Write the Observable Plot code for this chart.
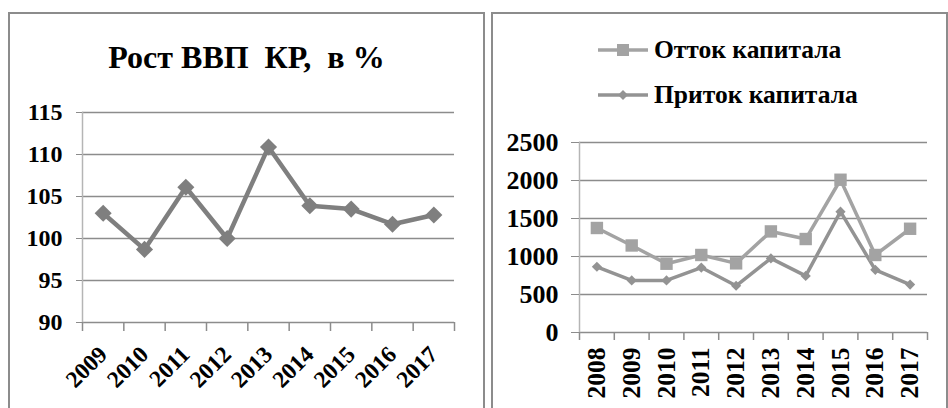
<!DOCTYPE html>
<html><head><meta charset="utf-8">
<script src="https://cdn.jsdelivr.net/npm/d3@7"></script>
<script src="https://cdn.jsdelivr.net/npm/@observablehq/plot@0.6"></script>
<style>
body{margin:0;background:#fff;}
#wrap{position:relative;width:948px;height:408px;overflow:hidden;background:#fff;font-family:"Liberation Serif","Times New Roman",serif;}
.panel{position:absolute;border:2px solid #8c8c8c;box-sizing:border-box;background:#fff;}
#left{left:8px;top:12px;width:477px;height:420px;}
#right{left:491px;top:12px;width:457px;height:420px;}
.title{height:78px;box-sizing:border-box;padding-top:27px;line-height:32px;font-size:32px;font-weight:bold;text-align:center;white-space:pre;color:#000;}
.legend{position:relative;height:108px;}
.lrow{position:absolute;left:105px;height:26px;display:flex;align-items:center;font-size:25.5px;font-weight:bold;color:#000;white-space:nowrap;}
.lrow svg{display:block;margin-right:6px;}
</style>
</head><body>
<div id="wrap">
  <div class="panel" id="left"><div class="title">Рост ВВП  КР,  в %</div><div id="chartL"></div></div>
  <div class="panel" id="right"><div class="legend" id="legend"></div><div id="chartR"></div></div>
</div>
<script>
// ---- data ----
const gdpYears = [2009, 2010, 2011, 2012, 2013, 2014, 2015, 2016, 2017];
const gdpValues = [103.0, 98.7, 106.1, 100.0, 110.9, 103.9, 103.5, 101.7, 102.8];
const gdpTicks = [90, 95, 100, 105, 110, 115];

const capYears = [2008, 2009, 2010, 2011, 2012, 2013, 2014, 2015, 2016, 2017];
const outflow = [1375, 1145, 905, 1020, 910, 1330, 1230, 2010, 1020, 1365];
const inflow = [865, 685, 685, 855, 615, 975, 745, 1590, 825, 630];
const capTicks = [0, 500, 1000, 1500, 2000, 2500];
const seriesNames = ["Отток капитала", "Приток капитала"];

const gdpColor = "#7f7f7f";
const outColor = "#a3a3a3";
const inColor = "#939393";
const gridColor = "#8c8c8c";
const font = "'Liberation Serif','Times New Roman',serif";

const gdpData = gdpYears.map((y, i) => ({year: y, value: gdpValues[i]}));
const capData = [
  ...capYears.map((y, i) => ({year: y, value: outflow[i], series: seriesNames[0]})),
  ...capYears.map((y, i) => ({year: y, value: inflow[i], series: seriesNames[1]}))
];
const bounds = ys => [...ys.map(y => y - 0.5), ys[ys.length - 1] + 0.5];

// ---- left chart ----
const left = Plot.plot({
  width: 473, height: 316,
  marginTop: 20, marginBottom: 86, marginLeft: 72, marginRight: 29,
  style: {fontFamily: font, color: "#000", background: "transparent", overflow: "visible"},
  x: {type: "linear", domain: [gdpYears[0] - 0.5, gdpYears[gdpYears.length - 1] + 0.5]},
  y: {domain: [gdpTicks[0], gdpTicks[gdpTicks.length - 1]]},
  marks: [
    Plot.gridY(gdpTicks, {stroke: gridColor, strokeOpacity: 1, strokeWidth: 1.5}),
    Plot.frame({anchor: "left", stroke: "#b5b5b5", strokeWidth: 1.5}),
    Plot.axisY({ticks: gdpTicks, tickSize: 6, tickPadding: 14, tickFormat: d => String(d), fontSize: 24, fontWeight: "bold", fill: "#000", stroke: gridColor, label: null}),
    Plot.axisX({ticks: bounds(gdpYears), tickSize: 9, tickFormat: () => "", stroke: gridColor, strokeWidth: 1.5, label: null}),
    Plot.axisX({ticks: gdpYears, tickSize: 0, tickPadding: 28, tickRotate: -45, tickFormat: d => String(d), fontSize: 23.5, fontWeight: "bold", fill: "#000", label: null}),
    Plot.line(gdpData, {x: "year", y: "value", stroke: gdpColor, strokeWidth: 4.5}),
    Plot.dot(gdpData, {x: "year", y: "value", symbol: "diamond2", r: 7.7, fill: gdpColor, stroke: "none"})
  ]
});
document.getElementById("chartL").appendChild(left);

// ---- right chart ----
const right = Plot.plot({
  width: 453, height: 286,
  marginTop: 20, marginBottom: 76, marginLeft: 86, marginRight: 19,
  style: {fontFamily: font, color: "#000", background: "transparent", overflow: "visible"},
  x: {type: "linear", domain: [capYears[0] - 0.5, capYears[capYears.length - 1] + 0.5]},
  y: {domain: [capTicks[0], capTicks[capTicks.length - 1]]},
  color: {domain: seriesNames, range: [outColor, inColor]},
  marks: [
    Plot.gridY(capTicks, {stroke: gridColor, strokeOpacity: 1, strokeWidth: 1.5}),
    Plot.frame({anchor: "left", stroke: "#b5b5b5", strokeWidth: 1.5}),
    Plot.axisY({ticks: capTicks, tickSize: 8, tickPadding: 13, tickFormat: d => String(d), fontSize: 26, fontWeight: "bold", fill: "#000", stroke: gridColor, label: null}),
    Plot.axisX({ticks: bounds(capYears), tickSize: 8, tickFormat: () => "", stroke: gridColor, strokeWidth: 1.5, label: null}),
    Plot.axisX({ticks: capYears, tickSize: 0, tickPadding: 15, tickRotate: -90, tickFormat: d => String(d), fontSize: 25.5, fontWeight: "bold", fill: "#000", label: null}),
    Plot.line(capData, {x: "year", y: "value", z: "series", stroke: "series", strokeWidth: 3.5}),
    Plot.dot(capData.filter(d => d.series === seriesNames[0]), {x: "year", y: "value", symbol: "square", r: 7, fill: outColor, stroke: "none"}),
    Plot.dot(capData.filter(d => d.series === seriesNames[1]), {x: "year", y: "value", symbol: "diamond2", r: 4.6, fill: inColor, stroke: "none"})
  ]
});
document.getElementById("chartR").appendChild(right);

// ---- legend ----
const legend = document.getElementById("legend");
const legendItems = [
  {name: seriesNames[0], color: outColor, shape: "square", top: 23},
  {name: seriesNames[1], color: inColor, shape: "diamond", top: 68}
];
legendItems.forEach(it => {
  const row = document.createElement("div");
  row.className = "lrow";
  row.style.top = it.top + "px";
  const marker = it.shape === "square"
    ? `<rect x="19" y="7" width="12" height="12" fill="${it.color}"/>`
    : `<path d="M25 8 L30 13 L25 18 L20 13 Z" fill="${it.color}"/>`;
  row.innerHTML = `<svg width="50" height="26"><line x1="0" x2="50" y1="13" y2="13" stroke="${it.color}" stroke-width="3.5"/>${marker}</svg><span>${it.name}</span>`;
  legend.appendChild(row);
});
</script>
</body></html>
